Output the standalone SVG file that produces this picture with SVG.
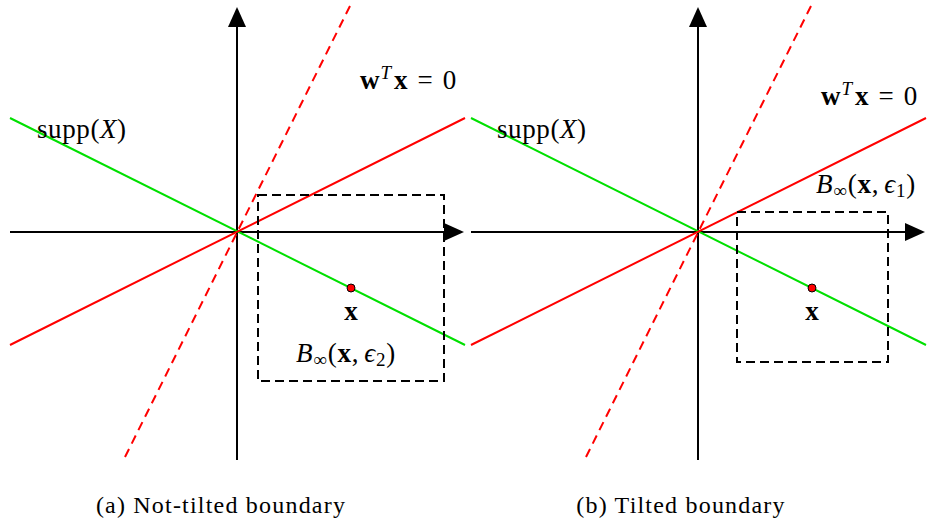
<svg xmlns="http://www.w3.org/2000/svg" width="929" height="527" viewBox="0 0 929 527">
<defs>
<style>
.axis{stroke:#000;stroke-width:2;fill:none}
.green{stroke:#00e000;stroke-width:2;fill:none}
.red{stroke:#ff0000;stroke-width:2;fill:none}
.reddash{stroke:#ff0000;stroke-width:2;fill:none;stroke-dasharray:9,6}
.box{stroke:#000;stroke-width:2;fill:none;stroke-dasharray:9,5}
.pt{fill:#ff0000;stroke:#000;stroke-width:1}
text{font-family:"Liberation Serif","DejaVu Serif",serif;font-size:27px;fill:#000}
.cap{font-size:24px;letter-spacing:1.2px}
.b{font-weight:bold}
.i{font-style:italic}
.s{font-size:19px}
</style>
<marker id="arr" viewBox="0 0 20 18" refX="2" refY="9" markerWidth="20" markerHeight="18" markerUnits="userSpaceOnUse" orient="auto">
<path d="M0,0 L20,9 L0,18 Z" fill="#000"/>
</marker>
</defs>

<g id="connectors">
<!-- panel a -->
<line class="axis" x1="237" y1="460" x2="237" y2="25" marker-end="url(#arr)"/>
<line class="axis" x1="10" y1="232" x2="446" y2="232" marker-end="url(#arr)"/>
<line class="green" x1="10" y1="118" x2="465" y2="345"/>
<line class="red" x1="10" y1="345" x2="465" y2="118"/>
<line class="reddash" x1="125" y1="457" x2="350" y2="6"/>
<!-- panel b -->
<line class="axis" x1="698" y1="460" x2="698" y2="25" marker-end="url(#arr)"/>
<line class="axis" x1="471" y1="232" x2="907" y2="232" marker-end="url(#arr)"/>
<line class="green" x1="471" y1="118" x2="926" y2="345"/>
<line class="red" x1="471" y1="345" x2="926" y2="118"/>
<line class="reddash" x1="586" y1="457" x2="811" y2="6"/>
</g>

<g id="box-a"><rect class="box" x="258" y="195" width="186" height="186"/></g>
<g id="box-b"><rect class="box" x="737" y="212" width="151" height="150"/></g>

<g id="point-a"><circle class="pt" cx="351" cy="288" r="4"/><text class="b" x="351" y="320" text-anchor="middle">x</text></g>
<g id="point-b"><circle class="pt" cx="812" cy="288" r="4"/><text class="b" x="812" y="320" text-anchor="middle">x</text></g>

<g id="labels-a">
<text x="37" y="138" letter-spacing="0.6">supp(<tspan class="i">X</tspan>)</text>
<text x="360" y="89"><tspan class="b">w</tspan><tspan class="i s" dy="-10" dx="1">T</tspan><tspan class="b" dy="10" dx="3">x</tspan><tspan dx="10">=</tspan><tspan dx="10">0</tspan></text>
<text x="296" y="362" letter-spacing="0.8"><tspan class="i">B</tspan><tspan class="s" dy="4">∞</tspan><tspan dy="-4">(</tspan><tspan class="b">x</tspan>,<tspan class="i" dx="5">ϵ</tspan><tspan class="s" dy="4">2</tspan><tspan dy="-4">)</tspan></text>
<text class="cap" x="221" y="513" text-anchor="middle">(a) Not-tilted boundary</text>
</g>

<g id="labels-b">
<text x="497" y="138" letter-spacing="0.6">supp(<tspan class="i">X</tspan>)</text>
<text x="821" y="105"><tspan class="b">w</tspan><tspan class="i s" dy="-10" dx="1">T</tspan><tspan class="b" dy="10" dx="3">x</tspan><tspan dx="10">=</tspan><tspan dx="10">0</tspan></text>
<text x="816" y="193" letter-spacing="0.8"><tspan class="i">B</tspan><tspan class="s" dy="4">∞</tspan><tspan dy="-4">(</tspan><tspan class="b">x</tspan>,<tspan class="i" dx="5">ϵ</tspan><tspan class="s" dy="4">1</tspan><tspan dy="-4">)</tspan></text>
<text class="cap" x="681" y="513" text-anchor="middle">(b) Tilted boundary</text>
</g>
</svg>
